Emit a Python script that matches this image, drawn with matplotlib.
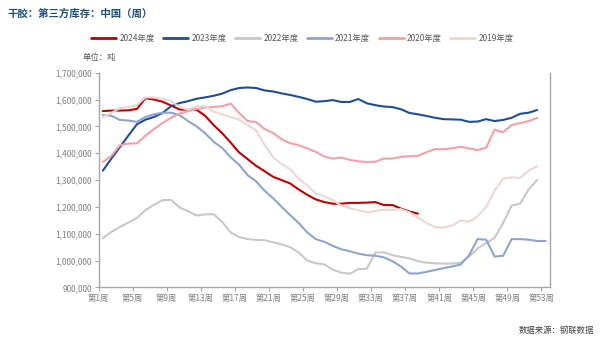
import numpy as np
import matplotlib
matplotlib.use("Agg")
import matplotlib.pyplot as plt
from matplotlib.ticker import FuncFormatter

plt.rcParams['font.family'] = ['Noto Sans CJK SC', 'DejaVu Sans']

# weekly inventory, tonnes (2024 runs to week 38, 2021 has 53 weeks)
y2024 = [1557000, 1559000, 1559000, 1560000, 1565000, 1605000, 1600000, 1592000, 1578000, 1563000,
         1562000, 1562000, 1540000, 1505000, 1475000, 1440000, 1403000, 1378000, 1353000, 1333000,
         1312000, 1300000, 1287000, 1265000, 1245000, 1228000, 1218000, 1212000, 1212000, 1215000,
         1215000, 1216000, 1218000, 1207000, 1207000, 1194000, 1183000, 1175000]
y2023 = [1335000, 1380000, 1423000, 1466000, 1508000, 1525000, 1535000, 1550000, 1575000, 1587000,
         1594000, 1603000, 1608000, 1614000, 1622000, 1635000, 1643000, 1645000, 1643000, 1634000,
         1630000, 1623000, 1617000, 1610000, 1602000, 1592000, 1594000, 1598000, 1591000, 1591000,
         1602000, 1586000, 1579000, 1574000, 1572000, 1564000, 1550000, 1545000, 1539000, 1532000,
         1527000, 1526000, 1525000, 1517000, 1518000, 1527000, 1520000, 1524000, 1532000, 1547000,
         1551000, 1561000]
y2022 = [1084000, 1107000, 1125000, 1142000, 1159000, 1188000, 1208000, 1225000, 1226000, 1198000,
         1184000, 1168000, 1172000, 1173000, 1145000, 1105000, 1088000, 1080000, 1077000, 1076000,
         1068000, 1060000, 1050000, 1030000, 1000000, 990000, 986000, 966000, 955000, 951000,
         968000, 970000, 1030000, 1031000, 1020000, 1014000, 1008000, 998000, 992000, 990000,
         989000, 989000, 992000, 1015000, 1045000, 1065000, 1085000, 1140000, 1205000, 1212000,
         1265000, 1300000]
y2021 = [1542000, 1540000, 1524000, 1522000, 1517000, 1535000, 1545000, 1551000, 1551000, 1542000,
         1520000, 1500000, 1475000, 1443000, 1420000, 1385000, 1357000, 1318000, 1295000, 1260000,
         1232000, 1200000, 1169000, 1140000, 1105000, 1080000, 1070000, 1055000, 1042000, 1035000,
         1026000, 1020000, 1018000, 1012000, 998000, 978000, 952000, 952000, 958000, 965000,
         972000, 978000, 985000, 1020000, 1080000, 1078000, 1015000, 1018000, 1080000, 1080000,
         1078000, 1073000, 1073000]
y2020 = [1367000, 1390000, 1430000, 1436000, 1437000, 1465000, 1490000, 1512000, 1532000, 1548000,
         1556000, 1565000, 1570000, 1572000, 1575000, 1585000, 1550000, 1520000, 1516000, 1490000,
         1475000, 1452000, 1437000, 1430000, 1418000, 1405000, 1388000, 1380000, 1384000, 1375000,
         1370000, 1367000, 1368000, 1380000, 1380000, 1386000, 1389000, 1390000, 1404000, 1415000,
         1415000, 1418000, 1424000, 1418000, 1412000, 1420000, 1488000, 1478000, 1505000, 1512000,
         1520000, 1532000]
y2019 = [1535000, 1550000, 1568000, 1572000, 1580000, 1608000, 1608000, 1603000, 1594000, 1572000,
         1562000, 1575000, 1575000, 1555000, 1545000, 1535000, 1525000, 1505000, 1485000, 1430000,
         1385000, 1360000, 1340000, 1305000, 1280000, 1250000, 1240000, 1225000, 1205000, 1195000,
         1188000, 1180000, 1185000, 1190000, 1188000, 1192000, 1180000, 1160000, 1140000, 1125000,
         1123000, 1130000, 1150000, 1145000, 1165000, 1200000, 1260000, 1305000, 1310000, 1308000,
         1335000, 1352000]

series = [
    ("2024年度", y2024, "#c00000"),
    ("2023年度", y2023, "#1f4e96"),
    ("2022年度", y2022, "#c8c8c8"),
    ("2021年度", y2021, "#8ea4d0"),
    ("2020年度", y2020, "#f2a0a8"),
    ("2019年度", y2019, "#ecd6d6"),
]

week_ticks = list(range(1, 54, 4))
week_labels = ["第%d周" % w for w in week_ticks]
y_ticks = list(range(900000, 1700001, 100000))

fig = plt.figure(figsize=(6.05, 3.43), dpi=100)
ax = fig.add_axes([0.163, 0.162, 0.746, 0.626])

for name, vals, col in series:
    # each week sits in the middle of its category slot
    x = np.arange(len(vals)) + 0.5
    ax.plot(x, vals, color=col, lw=1.5, label=name, solid_joinstyle='round', solid_capstyle='round')

ax.set_xlim(0, 53)
ax.set_ylim(900000, 1700000)
ax.set_xticks([w - 1 for w in week_ticks])
ax.set_xticklabels(week_labels)
ax.set_yticks(y_ticks)
ax.yaxis.set_major_formatter(FuncFormatter(lambda v, p: "{:,}".format(int(v))))

for s in ['left', 'bottom', 'right']:
    ax.spines[s].set_color('#a6a6a6')
    ax.spines[s].set_linewidth(1.0)
ax.spines['top'].set_visible(False)
ax.tick_params(axis='both', colors='#a6a6a6', labelcolor='#808080', labelsize=6, length=3, width=0.8)
ax.tick_params(axis='x', pad=2)
ax.tick_params(axis='y', pad=2)

leg = fig.legend(loc='center', bbox_to_anchor=(0.5, 0.888), ncol=6, frameon=False,
                 fontsize=6, handlelength=3.0, columnspacing=1.0, handletextpad=0.4,
                 labelcolor='#595959')
for h in leg.get_lines():
    h.set_linewidth(2.0)

fig.text(0.013, 0.975, "干胶：第三方库存：中国（周）", color='#1f4e79', fontsize=7.5,
         fontweight='bold', va='top', ha='left')
fig.text(0.136, 0.833, "单位：吨", color='#595959', fontsize=6, va='center', ha='left')
fig.text(0.982, 0.038, "数据来源：钢联数据", color='#404040', fontsize=6, va='center', ha='right')

fig.savefig("out.png", dpi=100)
